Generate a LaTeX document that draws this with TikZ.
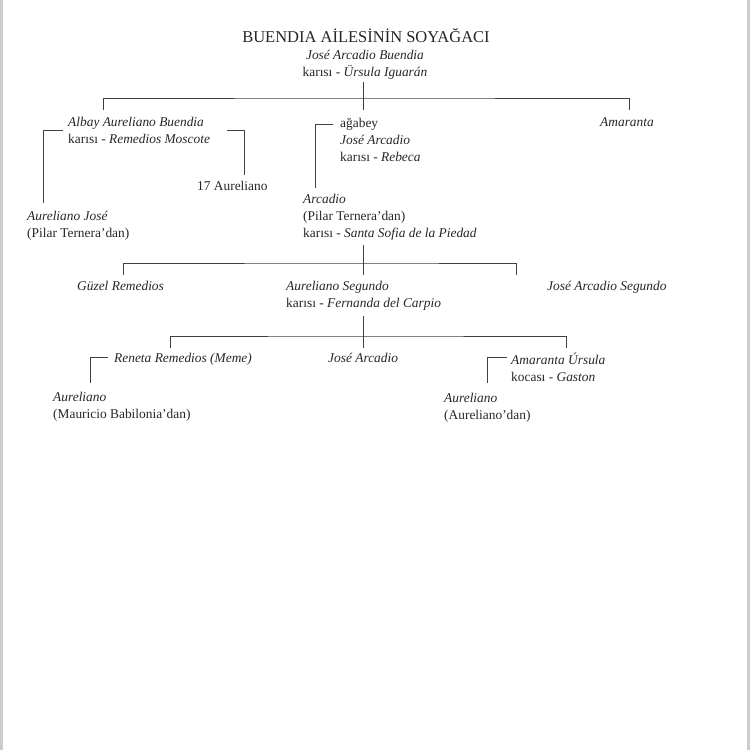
\documentclass[tikz,border=0pt]{standalone}
\usepackage{fontspec}
\setmainfont{Liberation Serif}
\usepackage{tikz}

\tikzset{
  person/.style={anchor=north west,align=left,inner sep=0pt,text=black!85,
    font=\fontsize{13.4}{17}\selectfont},
  branch/.style={draw=black!75,line width=0.8pt},
}

\begin{document}
\begin{tikzpicture}[x=1pt,y=-1pt]
\useasboundingbox (0,0) rectangle (750,750);
% page edges:
\path[draw=black!20,line width=3pt] (1.5,0) -- (1.5,750);
\path[draw=black!20,line width=3pt] (748.5,0) -- (748.5,750);
% heading and founders:
\node[inner sep=0pt,text=black!85,font=\fontsize{16.5}{18}\selectfont] (title) at (366,36) {BUENDIA AİLESİNİN SOYAĞACI};
\node[person,anchor=north,align=center] (founder) at (365,50) {\textit{José Arcadio Buendia}\\karısı - \textit{Ürsula Iguarán}};
% first generation:
\node[person] (albay) at (68,117) {\textit{Albay Aureliano Buendia}\\karısı - \textit{Remedios Moscote}};
\node[person] (agabey) at (340,118) {ağabey\\\textit{José Arcadio}\\karısı - \textit{Rebeca}};
\node[person] (amaranta) at (600,117) {\textit{Amaranta}};
\node[person] (aurjose) at (27,211) {\textit{Aureliano José}\\(Pilar Ternera'dan)};
\node[person] (aur17) at (197,181) {17 Aureliano};
\node[person] (arcadio) at (303,194) {\textit{Arcadio}\\(Pilar Ternera'dan)\\karısı - \textit{Santa Sofia de la Piedad}};
% second generation:
\node[person] (guzel) at (77,281) {\textit{Güzel Remedios}};
\node[person] (aursegundo) at (286,281) {\textit{Aureliano Segundo}\\karısı - \textit{Fernanda del Carpio}};
\node[person] (josesegundo) at (547,281) {\textit{José Arcadio Segundo}};
% third generation:
\node[person] (meme) at (114,353) {\textit{Reneta Remedios (Meme)}};
\node[person] (josearcadio) at (328,353) {\textit{José Arcadio}};
\node[person] (amaursula) at (511,353) {\textit{Amaranta Úrsula}\\kocası - \textit{Gaston}};
\node[person] (aurmau) at (53,392) {\textit{Aureliano}\\(Mauricio Babilonia'dan)};
\node[person] (auraur) at (444,393) {\textit{Aureliano}\\(Aureliano'dan)};
% junctions:
\coordinate (top1) at (363,82);
\coordinate (bar1) at (363,98);
\coordinate (top2) at (363,245);
\coordinate (bar2) at (363,263);
\coordinate (top3) at (363,316);
\coordinate (bar3) at (363,336);
% branches:
\path[branch] (top1) -- (bar1);
\path[branch] (103,110) |- (bar1) -| (629,110);
\path[branch] (bar1) -- (363,110);
\path[branch] (63,130) -| (43,203);
\path[branch] (227,130) -| (244,175);
\path[branch] (333,124) -| (315,188);
\path[branch] (top2) -- (363,275);
\path[branch] (123,275) |- (bar2) -| (516,275);
\path[branch] (top3) -- (363,348);
\path[branch] (170,348) |- (bar3) -| (566,348);
\path[branch] (108,357) -| (90,383);
\path[branch] (507,357) -| (487,383);
\end{tikzpicture}
\end{document}
